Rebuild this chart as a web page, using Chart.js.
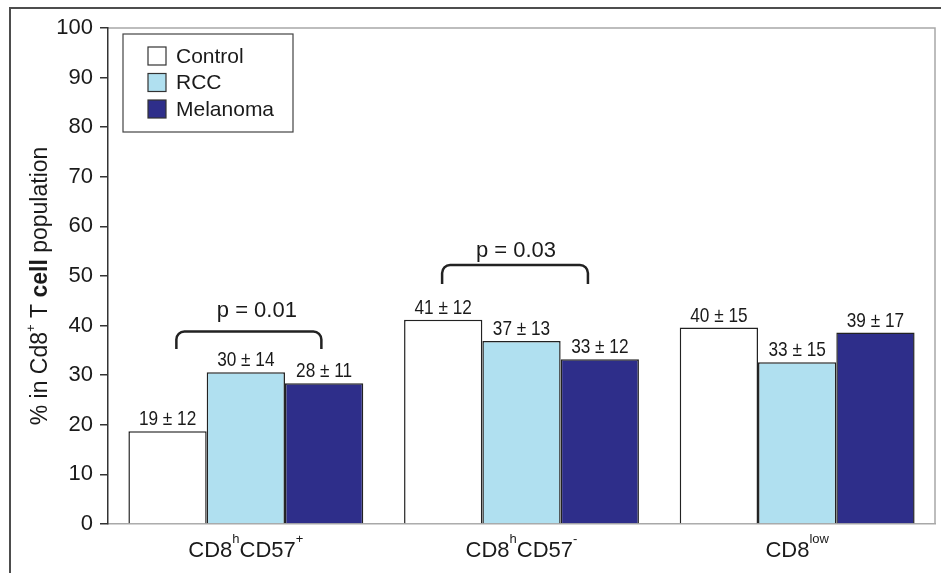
<!DOCTYPE html>
<html><head><meta charset="utf-8">
<script src="https://cdn.jsdelivr.net/npm/chart.js@4.4.1/dist/chart.umd.min.js"></script>
<style>html,body{margin:0;padding:0;background:#fff}canvas{display:block}</style>
</head><body>
<canvas id="c" width="941" height="573"></canvas>
<script>
// ---- data ----
const categories = ['CD8^{h}CD57^{+}', 'CD8^{h}CD57^{-}', 'CD8^{low}'];
const seriesNames = ['Control', 'RCC', 'Melanoma'];
const controlValues = [18.7, 41.2, 39.6];
const rccValues = [30.6, 36.9, 32.6];
const melanomaValues = [28.4, 33.2, 38.6];
const controlLabels = ['19 ± 12', '41 ± 12', '40 ± 15'];
const rccLabels = ['30 ± 14', '37 ± 13', '33 ± 15'];
const melanomaLabels = ['28 ± 11', '33 ± 12', '39 ± 17'];
const pValueTexts = ['p = 0.01', 'p = 0.03'];
const yTicks = [0, 10, 20, 30, 40, 50, 60, 70, 80, 90, 100];
const yTitle = '% in Cd8^{+} T **cell** population';

// ---- styling ----
const FONT = '"Liberation Sans", Arial, Helvetica, sans-serif';
const TEXT = '#1a1a1a';
const colors = ['#ffffff', '#b0e0f0', '#2e2e8a'];

function parseRich(s) {
  const parts = [];
  const re = /\^\{([^}]*)\}|\*\*([^*]*)\*\*|([^^*]+)/g;
  let m;
  while ((m = re.exec(s))) {
    if (m[1] !== undefined) parts.push({ t: m[1], sup: true });
    else if (m[2] !== undefined) parts.push({ t: m[2], bold: true });
    else parts.push({ t: m[3] });
  }
  return parts;
}
function drawRich(ctx, s, x, y, size, supSize, rise) {
  const parts = parseRich(s);
  const fontOf = p => (p.bold ? 'bold ' : '') + (p.sup ? supSize : size) + 'px ' + FONT;
  let w = 0;
  parts.forEach(p => { ctx.font = fontOf(p); p.w = ctx.measureText(p.t).width; w += p.w; });
  let cx = x - w / 2;
  ctx.textAlign = 'left';
  ctx.textBaseline = 'alphabetic';
  parts.forEach(p => {
    ctx.font = fontOf(p);
    ctx.fillText(p.t, cx, p.sup ? y - rise : y);
    cx += p.w;
  });
}

const decor = {
  id: 'decor',
  beforeDraw(chart) {
    const ctx = chart.ctx;
    ctx.save();
    ctx.fillStyle = '#fff';
    ctx.fillRect(0, 0, chart.width, chart.height);
    // outer figure frame
    ctx.strokeStyle = '#4d4d4d';
    ctx.lineWidth = 2;
    ctx.beginPath();
    ctx.moveTo(10, chart.height + 2);
    ctx.lineTo(10, 8);
    ctx.lineTo(chart.width + 2, 8);
    ctx.stroke();
    // plot area top/right border
    const a = chart.chartArea;
    ctx.strokeStyle = '#a8a8a8';
    ctx.lineWidth = 1.5;
    ctx.beginPath();
    ctx.moveTo(a.left, a.top);
    ctx.lineTo(a.right, a.top);
    ctx.lineTo(a.right, a.bottom);
    ctx.stroke();
    ctx.restore();
  },
  afterDraw(chart, args, opts) {
    const ctx = chart.ctx;
    const a = chart.chartArea;
    const xs = chart.scales.x, ys = chart.scales.y;
    ctx.save();
    ctx.fillStyle = TEXT;
    // value labels (condensed face)
    chart.data.datasets.forEach((ds, di) => {
      const meta = chart.getDatasetMeta(di);
      meta.data.forEach((bar, i) => {
        ctx.save();
        ctx.translate(bar.x, bar.y - 6);
        ctx.scale(0.82, 1);
        ctx.font = '21px ' + FONT;
        ctx.textAlign = 'center';
        ctx.textBaseline = 'alphabetic';
        ctx.fillText(ds.valueLabels[i], 0, 0);
        ctx.restore();
      });
    });
    // brackets
    const catW = (a.right - a.left) / chart.data.labels.length;
    opts.brackets.forEach(b => {
      const cx = xs.getPixelForValue(b.cat);
      const x0 = cx + b.x0 * catW, x1 = cx + b.x1 * catW;
      const yt = ys.getPixelForValue(b.top), yb = ys.getPixelForValue(b.bottom);
      const r = 8;
      ctx.strokeStyle = '#222';
      ctx.lineWidth = 2.5;
      ctx.beginPath();
      ctx.moveTo(x0, yb);
      ctx.lineTo(x0, yt + r);
      ctx.arcTo(x0, yt, x0 + r, yt, r);
      ctx.lineTo(x1 - r, yt);
      ctx.arcTo(x1, yt, x1, yt + r, r);
      ctx.lineTo(x1, yb);
      ctx.stroke();
      ctx.font = '22px ' + FONT;
      ctx.textAlign = 'center';
      ctx.textBaseline = 'alphabetic';
      ctx.fillText(b.text, (x0 + x1) / 2 + b.dx, ys.getPixelForValue(b.textY));
    });
    // category labels
    ctx.fillStyle = TEXT;
    chart.data.labels.forEach((lab, i) => {
      drawRich(ctx, lab, xs.getPixelForValue(i), a.bottom + 33, 22, 13, 14);
    });
    // y title
    ctx.save();
    ctx.translate(47, (a.top + a.bottom) / 2 + 10);
    ctx.rotate(-Math.PI / 2);
    drawRich(ctx, yTitle, 0, 0, 23, 13, 12);
    ctx.restore();
    // legend
    const lx = a.left + 15, ly = a.top + 6, lw = 170, lh = 98;
    ctx.fillStyle = '#fff';
    ctx.fillRect(lx, ly, lw, lh);
    ctx.strokeStyle = '#444';
    ctx.lineWidth = 1.2;
    ctx.strokeRect(lx, ly, lw, lh);
    chart.data.datasets.forEach((ds, di) => {
      const cy = ly + 22 + di * 26.5;
      ctx.fillStyle = ds.backgroundColor;
      ctx.fillRect(lx + 25, cy - 9, 18, 18);
      ctx.strokeStyle = '#333';
      ctx.lineWidth = 1.2;
      ctx.strokeRect(lx + 25, cy - 9, 18, 18);
      ctx.fillStyle = TEXT;
      ctx.font = '21px ' + FONT;
      ctx.textAlign = 'left';
      ctx.textBaseline = 'middle';
      ctx.fillText(ds.label, lx + 53, cy + 1);
    });
    ctx.restore();
  }
};

const valueLabelSets = [controlLabels, rccLabels, melanomaLabels];
const valueSets = [controlValues, rccValues, melanomaValues];

new Chart(document.getElementById('c'), {
  type: 'bar',
  data: {
    labels: categories,
    datasets: seriesNames.map((name, i) => ({
      label: name,
      data: valueSets[i],
      valueLabels: valueLabelSets[i],
      backgroundColor: colors[i],
      borderColor: '#222',
      borderWidth: 1.5,
      categoryPercentage: 0.852,
      barPercentage: 1.0
    }))
  },
  plugins: [decor],
  options: {
    responsive: false,
    devicePixelRatio: 1,
    animation: false,
    layout: { padding: { left: 0, top: 28, right: 6, bottom: 0 } },
    plugins: {
      legend: { display: false },
      tooltip: { enabled: false },
      decor: {
        brackets: [
          { cat: 0, text: pValueTexts[0], top: 38.8, bottom: 35.3, textY: 41.8, x0: -0.252, x1: 0.274, dx: 8 },
          { cat: 1, text: pValueTexts[1], top: 52.2, bottom: 48.4, textY: 53.9, x0: -0.288, x1: 0.241, dx: 1 }
        ]
      }
    },
    scales: {
      x: {
        grid: { display: true, drawOnChartArea: false, drawTicks: false },
        border: { display: true, color: '#a8a8a8', width: 1.5 },
        ticks: { display: false },
        afterFit(s) { s.height = 49; }
      },
      y: {
        min: 0, max: 100,
        afterBuildTicks(s) { s.ticks = yTicks.map(v => ({ value: v })); },
        ticks: { font: { family: FONT, size: 22 }, color: TEXT, padding: 7 },
        grid: { drawOnChartArea: false, drawTicks: true, tickLength: 8, color: '#333', lineWidth: 1.5 },
        border: { display: true, color: '#333', width: 1.5 },
        afterFit(s) { s.width = 108; }
      }
    }
  }
});
</script>
</body></html>
